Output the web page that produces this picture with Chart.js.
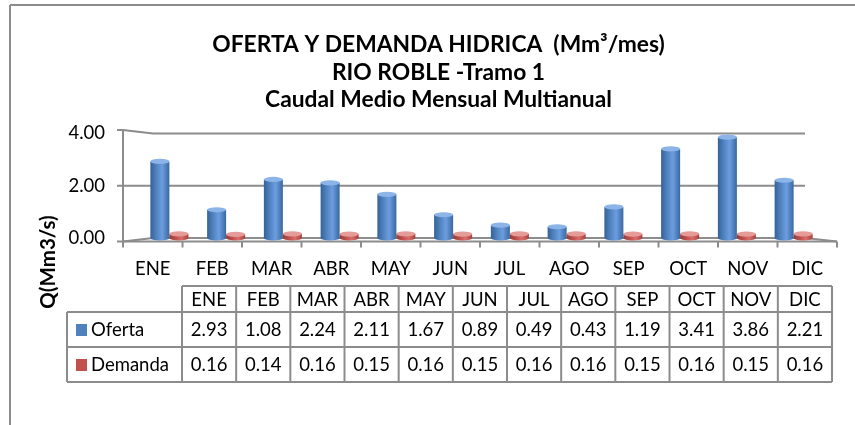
<!DOCTYPE html>
<html><head><meta charset="utf-8">
<script src="https://cdn.jsdelivr.net/npm/chart.js@4.4.1/dist/chart.umd.min.js"></script>
<style>html,body{margin:0;padding:0;background:#fff;}canvas{display:block;}</style>
</head><body>
<canvas id="c" width="855" height="425"></canvas>
<script>
// ---- data ----
const months = ['ENE','FEB','MAR','ABR','MAY','JUN','JUL','AGO','SEP','OCT','NOV','DIC'];
const oferta = [2.93,1.08,2.24,2.11,1.67,0.89,0.49,0.43,1.19,3.41,3.86,2.21];
const demanda = [0.16,0.14,0.16,0.15,0.16,0.15,0.16,0.16,0.15,0.16,0.15,0.16];
const seriesNames = ['Oferta','Demanda'];
const yTickValues = [0,2,4];
const titleLines = ['OFERTA Y DEMANDA HIDRICA  (Mm\u00b3/mes)','RIO ROBLE -Tramo 1','Caudal Medio Mensual Multianual'];
const yAxisTitle = 'Q(Mm3/s)';

// ---- style ----
const FONT = 'Lato, "Open Sans", sans-serif';
const TXT = 18.5;
const GRID = '#8c8c8c';
const CAT_PCT = 0.67;
const palette = [
  {base:'#4f81bd', stops:[[0,'#34629a'],[0.3,'#4f81bd'],[0.62,'#6c9de0'],[1,'#39689f']], cap:'#8db4e8'},
  {base:'#c0504d', stops:[[0,'#973c3a'],[0.35,'#c0504d'],[0.65,'#dc6d6a'],[1,'#a3403d']], cap:'#e59b98'}
];

function makeGrad(c, x0, x1, pal){
  const g = c.createLinearGradient(x0,0,x1,0);
  pal.stops.forEach(s=>g.addColorStop(s[0], s[1]));
  return g;
}
function cyl(di){
  return (ctx)=>{
    const chart = ctx.chart;
    const xs = chart.scales && chart.scales.x;
    if (ctx.type !== 'data' || !xs || !chart.chartArea) return palette[di].base;
    const center = xs.getPixelForValue(ctx.dataIndex);
    const w = xs.width / months.length * CAT_PCT / 2;
    const x0 = di === 0 ? center - w : center;
    return makeGrad(chart.ctx, x0, x0 + w, palette[di]);
  };
}

function line(c,x1,y1,x2,y2){c.beginPath();c.moveTo(x1,y1);c.lineTo(x2,y2);c.stroke();}

const frame3d = {
  id:'frame3d',
  beforeDraw(chart){
    const c = chart.ctx;
    c.save();
    c.fillStyle='#fff'; c.fillRect(0,0,chart.width,chart.height);
    c.strokeStyle=GRID; c.lineWidth=2;
    line(c,10,5,chart.width,5);
    line(c,10,5,10,chart.height);
    c.restore();
  },
  beforeDatasetsDraw(chart){
    const c = chart.ctx, xs = chart.scales.x, ys = chart.scales.y;
    const backL = xs.left + 12, backR = xs.right - 17;
    const frontL = xs.left - 18, frontR = xs.right + 15;
    const vmax = yTickValues[yTickValues.length-1];
    const mid = (ys.getPixelForValue(0) + ys.getPixelForValue(vmax)) / 2;
    const fy = v => mid + (ys.getPixelForValue(v) - mid) * 1.067;
    c.save();
    c.strokeStyle = GRID; c.lineWidth = 2;
    yTickValues.forEach(v=>{
      const by = ys.getPixelForValue(v);
      const edge = (v === 0 || v === vmax);
      line(c, backL, by, backR, by);
      if (edge) line(c, frontL, fy(v), backL, by);
      else line(c, frontL, by, backL, by);
      const ty = edge ? fy(v) : by;
      line(c, frontL - 6, ty, frontL, ty);
    });
    line(c, frontL, fy(vmax), frontL, fy(0));
    line(c, frontL, fy(0), frontR, fy(0));
    line(c, backR, ys.getPixelForValue(0), frontR, fy(0));
    const cw = (frontR - frontL) / months.length;
    for (let i = 0; i <= months.length; i++) line(c, frontL + i*cw, fy(0), frontL + i*cw, fy(0) + 6);
    c.fillStyle = '#000'; c.font = TXT + 'px ' + FONT; c.textAlign = 'center'; c.textBaseline = 'middle';
    months.forEach((m,i)=> c.fillText(m, frontL + (i+0.5)*cw, fy(0) + 28));
    c.restore();
  },
  afterDatasetsDraw(chart){
    const c = chart.ctx;
    c.save();
    chart.data.datasets.forEach((ds, di)=>{
      const meta = chart.getDatasetMeta(di);
      meta.data.forEach(el=>{
        const p = el.getProps(['x','y','base','width'], true);
        const rx = p.width/2, ry = 2.6;
        c.fillStyle = makeGrad(c, p.x - rx, p.x + rx, palette[di]);
        c.beginPath(); c.ellipse(p.x, p.base, rx, ry, 0, 0, Math.PI); c.fill();
        c.fillStyle = palette[di].cap;
        c.beginPath(); c.ellipse(p.x, p.y, rx, ry, 0, 0, Math.PI*2); c.fill();
      });
    });
    c.restore();
  },
  afterDraw(chart){
    const c = chart.ctx;
    const T = {left:67, colL:182, colR:832, yHead:286, y1:312, y2:347, y3:382};
    const colW = (T.colR - T.colL) / months.length;
    c.save();
    c.strokeStyle = GRID; c.lineWidth = 2;
    line(c, T.colL, T.yHead, T.colR, T.yHead);
    [T.y1, T.y2, T.y3].forEach(y=>line(c, T.left, y, T.colR, y));
    line(c, T.left, T.y1, T.left, T.y3);
    for (let i = 0; i <= months.length; i++) line(c, T.colL + i*colW, T.yHead, T.colL + i*colW, T.y3);
    c.fillStyle = '#000'; c.font = TXT + 'px ' + FONT; c.textBaseline = 'middle'; c.textAlign = 'center';
    months.forEach((m,i)=> c.fillText(m, T.colL + (i+0.5)*colW, (T.yHead+T.y1)/2 + 1));
    const rows = [[T.y1,T.y2],[T.y2,T.y3]];
    chart.data.datasets.forEach((ds, di)=>{
      const ym = (rows[di][0] + rows[di][1]) / 2 + 1;
      c.textAlign = 'center'; c.fillStyle = '#000';
      ds.data.forEach((v,i)=> c.fillText(v.toFixed(2), T.colL + (i+0.5)*colW, ym));
      c.fillStyle = palette[di].base;
      c.fillRect(T.left + 9, ym - 6.5, 11, 12);
      c.fillStyle = '#000'; c.textAlign = 'left';
      c.fillText(ds.label, T.left + 24, ym);
    });
    // y axis title
    c.translate(48, 262); c.rotate(-Math.PI/2);
    c.font = 'bold 20.5px ' + FONT; c.textAlign = 'center'; c.textBaseline = 'middle';
    c.fillText(yAxisTitle, 0, 0);
    c.restore();
  }
};

new Chart(document.getElementById('c'), {
  type:'bar',
  data:{
    labels: months,
    datasets:[
      {label:seriesNames[0], data:oferta, backgroundColor:cyl(0), borderWidth:0},
      {label:seriesNames[1], data:demanda, backgroundColor:cyl(1), borderWidth:0}
    ]
  },
  options:{
    responsive:false, devicePixelRatio:1, animation:false,
    layout:{padding:{left:55, right:33, top:0, bottom:187}},
    datasets:{bar:{categoryPercentage:CAT_PCT, barPercentage:1}},
    plugins:{
      legend:{display:false}, tooltip:{enabled:false},
      title:{display:true, text:titleLines, color:'#000',
        font:{family:FONT, size:22.8, weight:'bold', lineHeight:1.206},
        padding:{top:31, bottom:20}}
    },
    scales:{
      x:{display:false},
      y:{min:0, max:4,
        afterFit(s){ s.width = 86; },
        afterBuildTicks(s){ s.ticks = yTickValues.map(v=>({value:v})); },
        border:{display:false},
        grid:{display:false, drawTicks:false},
        ticks:{padding:36, color:'#000', font:{family:FONT, size:TXT}, callback:v=>Number(v).toFixed(2)}
      }
    }
  },
  plugins:[frame3d]
});
</script>
</body></html>
